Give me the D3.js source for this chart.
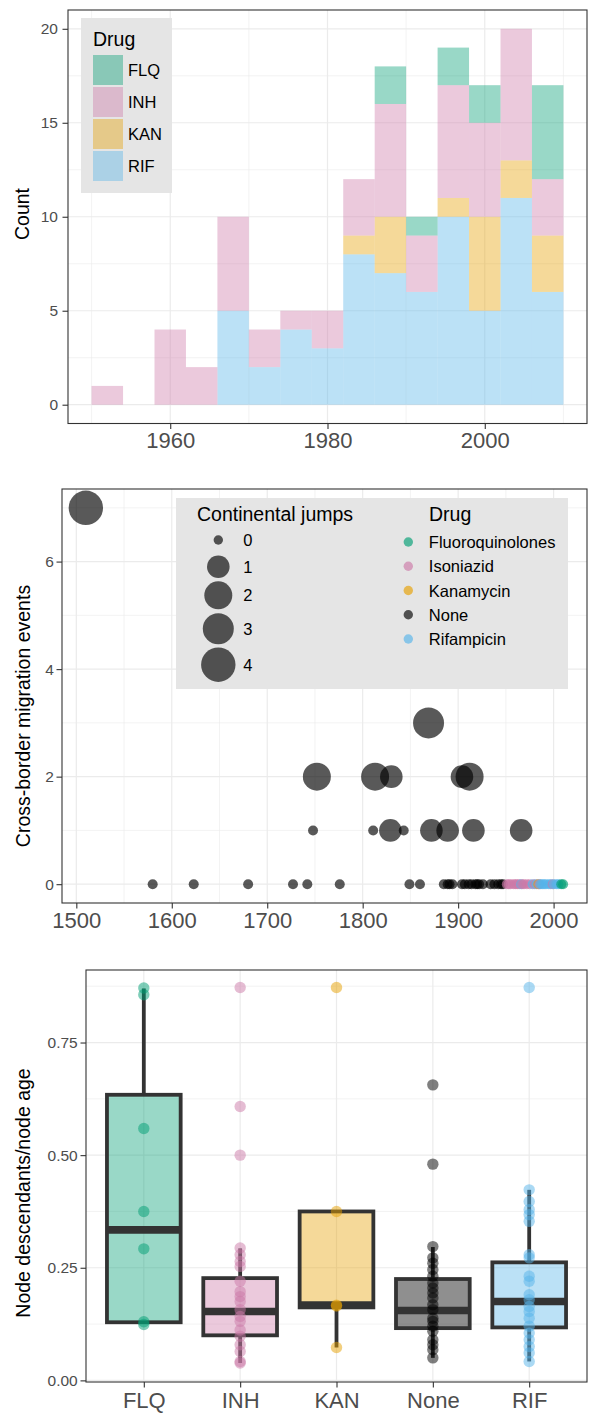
<!DOCTYPE html>
<html>
<head>
<meta charset="utf-8">
<script src="https://cdn.jsdelivr.net/npm/d3@7"></script>
<style>
body{margin:0;background:#fff;}
svg{display:block;font-family:"Liberation Sans",Arial,Helvetica,sans-serif;}
</style>
</head>
<body>
<div id="chart"></div>
<script>
// ---- top: histogram of resistance emergence, 4 year bins ----
var binStart = [1950,1954,1958,1962,1966,1970,1974,1978,1982,1986,1990,1994,1998,2002,2006];
var countRIF = [0,0,0,0,5,2,4,3,8,7,6,10,5,11,6];
var countKAN = [0,0,0,0,0,0,0,0,1,3,0,1,5,2,3];
var countINH = [1,0,4,2,5,2,1,2,3,6,3,6,5,7,3];
var countFLQ = [0,0,0,0,0,0,0,0,0,2,1,2,2,0,5];
var histTicksX = [1960,1980,2000];
var histTicksY = [0,5,10,15,20];

// ---- middle: cross-border migration events ----
var migYear   = [1510,1869,1752,1813,1830,1904,1912,1748,1811,1829,1843,1872,1889,1916,1966,
                 1580,1623,1680,1727,1742,1776,1849,1860,1885,1889,1891,1894,1904,1907,1911,1914,1918,1920,1922,1926,1934,1938,1942,1945,1947,
                 1951,1953,1955,1958,1960,1962,1964,1966,1967,1969,1972,1975,1978,1980,1982,1984,1985,1986,1988,1990,1992,1995,1997,1999,2000,2003,2005,2008,2010];
var migEvents = [7,3,2,2,2,2,2,1,1,1,1,1,1,1,1,
                 0,0,0,0,0,0,0,0,0,0,0,0,0,0,0,0,0,0,0,0,0,0,0,0,0,
                 0,0,0,0,0,0,0,0,0,0,0,0,0,0,0,0,0,0,0,0,0,0,0,0,0,0,0,0,0];
var migJumps  = [4,3,2,2,1,1,2,0,0,1,0,1,1,1,1,
                 0,0,0,0,0,0,0,0,0,0,0,0,0,0,0,0,0,0,0,0,0,0,0,0,0,
                 0,0,0,0,0,0,0,0,0,0,0,0,0,0,0,0,0,0,0,0,0,0,0,0,0,0,0,0,0];
var migDrug   = ['None','None','None','None','None','None','None','None','None','None','None','None','None','None','None',
                 'None','None','None','None','None','None','None','None','None','None','None','None','None','None','None','None','None','None','None','None','None','None','None','None','None',
                 'Isoniazid','Isoniazid','Isoniazid','Isoniazid','Isoniazid','Isoniazid','Isoniazid','Rifampicin','Isoniazid','Isoniazid','Isoniazid','Isoniazid','Rifampicin','Isoniazid','Rifampicin','Kanamycin','Isoniazid','Rifampicin','Rifampicin','Rifampicin','Rifampicin','Rifampicin','Rifampicin','Isoniazid','Rifampicin','Rifampicin','Rifampicin','Fluoroquinolones','Fluoroquinolones'];
var drugNames = ['Fluoroquinolones','Isoniazid','Kanamycin','None','Rifampicin'];
var jumpLevels = [0,1,2,3,4];
var migTicksX = [1500,1600,1700,1800,1900,2000];
var migTicksY = [0,2,4,6];

// ---- bottom: node descendants / node age ----
var drugCats = ['FLQ','INH','KAN','None','RIF'];
var boxLow  = [0.129,0.0386,0.073,0.050,0.042];
var boxQ1   = [0.129,0.100,0.162,0.116,0.1176];
var boxMed  = [0.334,0.153,0.167,0.155,0.175];
var boxQ3   = [0.634,0.227,0.375,0.225,0.262];
var boxHigh = [0.870,0.293,0.375,0.296,0.423];
var ratioFLQ  = [0.871,0.856,0.559,0.375,0.292,0.130,0.124];
var ratioINH  = [0.872,0.608,0.500,0.294,0.279,0.264,0.253,0.220,0.197,0.186,0.175,0.157,0.142,0.131,0.112,0.098,0.079,0.064,0.042,0.0386];
var ratioKAN  = [0.872,0.375,0.167,0.165,0.073];
var ratioNone = [0.656,0.480,0.297,0.272,0.260,0.246,0.231,0.216,0.205,0.194,0.183,0.168,0.157,0.138,0.131,0.120,0.109,0.090,0.079,0.068,0.050];
var ratioRIF  = [0.872,0.423,0.397,0.379,0.368,0.353,0.279,0.272,0.231,0.220,0.190,0.179,0.164,0.153,0.138,0.120,0.105,0.090,0.075,0.061,0.042];
var boxTicksY = [0,0.25,0.5,0.75];

var W = 589, H = 1413;
var gridCol = '#ebebeb', inkCol = '#333333', tickTxt = '#4d4d4d';

var abbrColor = d3.scaleOrdinal().domain(['FLQ','INH','KAN','None','RIF'])
	.range(['#009E73','#CC79A7','#E69F00','#000000','#56B4E9']);
var nameColor = d3.scaleOrdinal().domain(drugNames)
	.range(['#009E73','#CC79A7','#E69F00','#000000','#56B4E9']);

var svg = d3.select('#chart').append('svg').attr('width', W).attr('height', H);

function drawGrid(g, p, x, y, xMaj, xMin, yMaj, yMin){
	g.append('rect').attr('x', p.l).attr('y', p.t).attr('width', p.r - p.l).attr('height', p.b - p.t).attr('fill', '#fff');
	g.selectAll('.xmin').data(xMin).enter().append('line')
		.attr('x1', function(d){ return x(d); }).attr('x2', function(d){ return x(d); })
		.attr('y1', p.t).attr('y2', p.b).attr('stroke', gridCol).attr('stroke-width', 0.6);
	g.selectAll('.ymin').data(yMin).enter().append('line')
		.attr('y1', function(d){ return y(d); }).attr('y2', function(d){ return y(d); })
		.attr('x1', p.l).attr('x2', p.r).attr('stroke', gridCol).attr('stroke-width', 0.6);
	g.selectAll('.xmaj').data(xMaj).enter().append('line')
		.attr('x1', function(d){ return x(d); }).attr('x2', function(d){ return x(d); })
		.attr('y1', p.t).attr('y2', p.b).attr('stroke', gridCol).attr('stroke-width', 1.2);
	g.selectAll('.ymaj').data(yMaj).enter().append('line')
		.attr('y1', function(d){ return y(d); }).attr('y2', function(d){ return y(d); })
		.attr('x1', p.l).attr('x2', p.r).attr('stroke', gridCol).attr('stroke-width', 1.2);
}

function drawFrame(g, p, x, y, xTicks, yTicks, xFmt, yFmt, xPad, yPad, yTitle, yTitleX, yTitleY){
	g.append('rect').attr('x', p.l).attr('y', p.t).attr('width', p.r - p.l).attr('height', p.b - p.t)
		.attr('fill', 'none').attr('stroke', inkCol).attr('stroke-width', 1.1);
	var ax = g.append('g').attr('transform', 'translate(0,' + p.b + ')')
		.call(d3.axisBottom(x).tickValues(xTicks).tickFormat(xFmt).tickSize(5.5).tickPadding(xPad).tickSizeOuter(0));
	var ay = g.append('g').attr('transform', 'translate(' + p.l + ',0)')
		.call(d3.axisLeft(y).tickValues(yTicks).tickFormat(yFmt).tickSize(5.5).tickPadding(yPad).tickSizeOuter(0));
	[ax, ay].forEach(function(a){
		a.attr('font-family', null).attr('font-size', null);
		a.select('.domain').remove();
		a.selectAll('line').attr('stroke', inkCol).attr('stroke-width', 1.1);
		a.selectAll('text').attr('fill', tickTxt);
	});
	ax.selectAll('text').attr('font-size', 22);
	ay.selectAll('text').attr('font-size', 15.5);
	g.append('text').attr('transform', 'translate(' + yTitleX + ',' + yTitleY + ') rotate(-90)')
		.attr('text-anchor', 'middle').attr('dominant-baseline', 'central')
		.attr('font-size', 19.5).attr('fill', '#000').text(yTitle);
}

// ================= top panel =================
(function(){
	var p = {l:68, r:587, t:10, b:423.5};
	var x = d3.scaleLinear().domain([1947, 2013]).range([p.l, p.r]);
	var y = d3.scaleLinear().domain([-1, 21]).range([p.b, p.t]);
	var g = svg.append('g');
	drawGrid(g, p, x, y, histTicksX, [1950,1970,1990,2010], histTicksY, [2.5,7.5,12.5,17.5]);

	var rows = binStart.map(function(b, i){
		return {start:b, RIF:countRIF[i], KAN:countKAN[i], INH:countINH[i], FLQ:countFLQ[i]};
	});
	var stack = d3.stack().keys(['RIF','KAN','INH','FLQ'])(rows);
	var layer = g.selectAll('.layer').data(stack).enter().append('g')
		.attr('fill', function(d){ return abbrColor(d.key); }).attr('fill-opacity', 0.4);
	layer.selectAll('rect').data(function(d){ return d.filter(function(s){ return s[1] > s[0]; }); })
		.enter().append('rect')
		.attr('x', function(d){ return x(d.data.start); })
		.attr('width', function(d){ return x(d.data.start + 4) - x(d.data.start); })
		.attr('y', function(d){ return y(d[1]); })
		.attr('height', function(d){ return y(d[0]) - y(d[1]); });

	drawFrame(g, p, x, y, histTicksX, histTicksY, d3.format('d'), d3.format('d'), 3.2, 4.5, 'Count', 22, 214);

	// legend
	var lg = g.append('g');
	lg.append('rect').attr('x', 81).attr('y', 18).attr('width', 91).attr('height', 175).attr('fill', '#e5e5e5');
	lg.append('text').attr('x', 93).attr('y', 46).attr('font-size', 19.5).text('Drug');
	var keys = ['FLQ','INH','KAN','RIF'];
	var it = lg.selectAll('.it').data(keys).enter().append('g')
		.attr('transform', function(d, i){ return 'translate(' + [93, 55 + i * 32] + ')'; });
	it.append('rect').attr('width', 30).attr('height', 30)
		.attr('fill', function(d){ return abbrColor(d); }).attr('fill-opacity', 0.4);
	it.append('text').attr('x', 35).attr('y', 21).attr('font-size', 16.5).text(function(d){ return d; });
})();

// ================= middle panel =================
(function(){
	var p = {l:62, r:587, t:489, b:903};
	var x = d3.scaleLinear().domain([1485, 2035]).range([p.l, p.r]);
	var y = d3.scaleLinear().domain([-0.35, 7.35]).range([p.b, p.t]);
	var r = d3.scaleLinear().domain(jumpLevels).range([5, 11.3, 14, 15.5, 17.2]);
	var g = svg.append('g');
	drawGrid(g, p, x, y, migTicksX, [1550,1650,1750,1850,1950], migTicksY, [1,3,5,7]);

	var pts = migYear.map(function(yr, i){
		return {year:yr, ev:migEvents[i], jump:migJumps[i], drug:migDrug[i]};
	});
	g.selectAll('.pt').data(pts).enter().append('circle')
		.attr('cx', function(d){ return x(d.year); })
		.attr('cy', function(d){ return y(d.ev); })
		.attr('r', function(d){ return r(d.jump); })
		.attr('fill', function(d){ return nameColor(d.drug); })
		.attr('fill-opacity', 0.65);

	drawFrame(g, p, x, y, migTicksX, migTicksY, d3.format('d'), d3.format('d'), 4.3, 2.7, 'Cross-border migration events', 23.3, 716);

	// legends
	var lg = g.append('g');
	lg.append('rect').attr('x', 176).attr('y', 498).attr('width', 392).attr('height', 191).attr('fill', '#e5e5e5');
	lg.append('text').attr('x', 197).attr('y', 521).attr('font-size', 19.5).text('Continental jumps');
	var ky = [540, 566.7, 595.3, 628.7, 664.7];
	var sz = lg.selectAll('.sz').data(jumpLevels).enter().append('g')
		.attr('transform', function(d, i){ return 'translate(' + [218.3, ky[i]] + ')'; });
	sz.append('circle').attr('r', function(d){ return d === 0 ? 4.7 : r(d); }).attr('fill', '#000').attr('fill-opacity', 0.65);
	sz.append('text').attr('x', 25).attr('y', 6).attr('font-size', 16.5).text(function(d){ return d; });

	lg.append('text').attr('x', 429).attr('y', 521).attr('font-size', 19.5).text('Drug');
	var dk = lg.selectAll('.dk').data(drugNames).enter().append('g')
		.attr('transform', function(d, i){ return 'translate(' + [408.3, 542 + i * 24.25] + ')'; });
	dk.append('circle').attr('r', 4.7).attr('fill', function(d){ return nameColor(d); }).attr('fill-opacity', 0.65);
	dk.append('text').attr('x', 20.5).attr('y', 6).attr('font-size', 16.5).text(function(d){ return d; });
})();

// ================= bottom panel =================
(function(){
	var p = {l:86, r:587, t:970, b:1382};
	var x = d3.scalePoint().domain(drugCats).range([p.l, p.r]).padding(0.6);
	var y = d3.scaleLinear().domain([-0.0036, 0.911]).range([p.b, p.t]);
	var g = svg.append('g');
	drawGrid(g, p, x, y, drugCats, [], boxTicksY, [0.125,0.375,0.625,0.875]);

	var bw = x.step() * 0.765;
	var boxes = drugCats.map(function(c, i){
		return {cat:c, lo:boxLow[i], q1:boxQ1[i], med:boxMed[i], q3:boxQ3[i], hi:boxHigh[i]};
	});
	var bg = g.selectAll('.box').data(boxes).enter().append('g')
		.attr('transform', function(d){ return 'translate(' + x(d.cat) + ',0)'; });
	bg.append('line').attr('y1', function(d){ return y(d.hi); }).attr('y2', function(d){ return y(d.q3); })
		.attr('stroke', inkCol).attr('stroke-width', 3.8);
	bg.append('line').attr('y1', function(d){ return y(d.q1); }).attr('y2', function(d){ return y(d.lo); })
		.attr('stroke', inkCol).attr('stroke-width', 3.8);
	bg.append('rect').attr('x', -bw / 2).attr('width', bw)
		.attr('y', function(d){ return y(d.q3); })
		.attr('height', function(d){ return y(d.q1) - y(d.q3); })
		.attr('fill', function(d){ return abbrColor(d.cat); })
		.attr('fill-opacity', function(d){ return d.cat === 'None' ? 0.44 : 0.4; })
		.attr('stroke', inkCol).attr('stroke-width', 3.8);
	bg.append('line').attr('x1', -bw / 2).attr('x2', bw / 2)
		.attr('y1', function(d){ return y(d.med); }).attr('y2', function(d){ return y(d.med); })
		.attr('stroke', inkCol).attr('stroke-width', 7.6);

	var ratios = {FLQ:ratioFLQ, INH:ratioINH, KAN:ratioKAN, None:ratioNone, RIF:ratioRIF};
	var pts = [];
	drugCats.forEach(function(c){
		ratios[c].forEach(function(v){ pts.push({cat:c, v:v}); });
	});
	g.selectAll('.pt').data(pts).enter().append('circle')
		.attr('cx', function(d){ return x(d.cat); })
		.attr('cy', function(d){ return y(d.v); })
		.attr('r', 5.7)
		.attr('fill', function(d){ return abbrColor(d.cat); })
		.attr('fill-opacity', 0.5);

	drawFrame(g, p, x, y, drugCats, boxTicksY, null, d3.format('.2f'), 4.5, 2.8, 'Node descendants/node age', 23.3, 1193);
})();
</script>
</body>
</html>
